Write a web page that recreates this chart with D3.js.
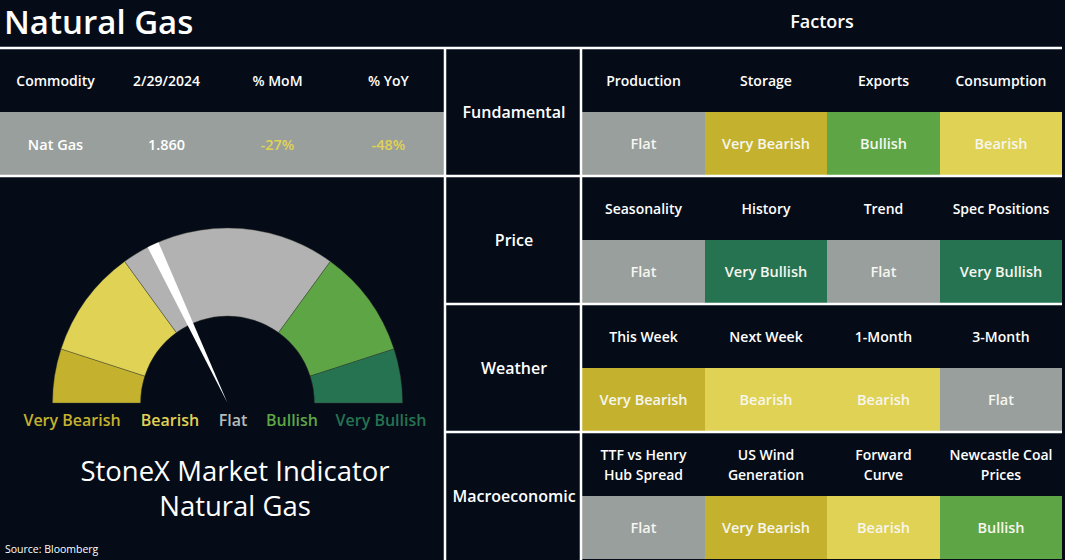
<!DOCTYPE html>
<html>
<head>
<meta charset="utf-8">
<script src="https://cdn.jsdelivr.net/npm/d3@7"></script>
<style>
  body { margin: 0; background: #050c17; }
  svg { display: block; font-family: "Open Sans", "Noto Sans", sans-serif; }
</style>
</head>
<body>
<div id="chart"></div>
<script>
// summary table
var summaryCols = ["Commodity", "2/29/2024", "% MoM", "% YoY"];
var summaryRow = ["Nat Gas", "1.860", "-27%", "-48%"];

// signal levels and how much of the gauge each one takes
var levels = ["Very Bearish", "Bearish", "Flat", "Bullish", "Very Bullish"];
var levelShares = [0.1, 0.2, 0.4, 0.2, 0.1];
var needleScore = -0.28; // -1 very bearish .. 1 very bullish

// factor grid
var groups = ["Fundamental", "Price", "Weather", "Macroeconomic"];
var factors = [
  ["Production", "Storage", "Exports", "Consumption"],
  ["Seasonality", "History", "Trend", "Spec Positions"],
  ["This Week", "Next Week", "1-Month", "3-Month"],
  ["TTF vs Henry|Hub Spread", "US Wind|Generation", "Forward|Curve", "Newcastle Coal|Prices"]
];
var signals = [
  ["Flat", "Very Bearish", "Bullish", "Bearish"],
  ["Flat", "Very Bullish", "Flat", "Very Bullish"],
  ["Very Bearish", "Bearish", "Bearish", "Flat"],
  ["Flat", "Very Bearish", "Bearish", "Bullish"]
];

var W = 1065, H = 560;
var bg = "#050c17";
var cellColor = d3.scaleOrdinal()
  .domain(levels)
  .range(["#c4b22e", "#e0d254", "#999f9d", "#5ea645", "#267352"]);
var arcColor = d3.scaleOrdinal()
  .domain(levels)
  .range(["#c4b22e", "#e0d254", "#b2b2b2", "#5ea645", "#267352"]);
var labelColor = d3.scaleOrdinal()
  .domain(levels)
  .range(["#c4b22e", "#e0d254", "#b8bcbd", "#5ea645", "#267352"]);

var svg = d3.select("#chart").append("svg")
  .attr("width", W).attr("height", H);

svg.append("rect").attr("width", W).attr("height", H).attr("fill", bg);

// titles
svg.append("text").attr("x", 4).attr("y", 34)
  .attr("fill", "#fff").attr("font-size", 33).attr("font-weight", 600)
  .text("Natural Gas");
svg.append("text").attr("x", 822).attr("y", 22).attr("dy", "0.35em")
  .attr("text-anchor", "middle").attr("fill", "#fff")
  .attr("font-size", 18).attr("font-weight", 600)
  .text("Factors");

// ---- left summary table
var sx = d3.scaleBand().domain(summaryCols).range([0, 444]);
svg.append("rect").attr("x", 0).attr("y", 112).attr("width", 444).attr("height", 63)
  .attr("fill", "#999f9d");
svg.selectAll(".shead").data(summaryCols).enter().append("text")
  .attr("class", "shead")
  .attr("x", function(d) { return sx(d) + sx.bandwidth() / 2; })
  .attr("y", 81).attr("dy", "0.35em")
  .attr("text-anchor", "middle").attr("fill", "#fff")
  .attr("font-size", 14).attr("font-weight", 600)
  .text(function(d) { return d; });
svg.selectAll(".sval").data(summaryRow).enter().append("text")
  .attr("class", "sval")
  .attr("x", function(d, i) { return sx(summaryCols[i]) + sx.bandwidth() / 2; })
  .attr("y", 145).attr("dy", "0.35em")
  .attr("text-anchor", "middle")
  .attr("fill", function(d) { return d.charAt(0) == "-" ? "#e0d254" : "#fff"; })
  .attr("font-size", 14.5).attr("font-weight", 600)
  .text(function(d) { return d; });

// ---- gauge
var gx = 227.5, gy = 403;
var gauge = svg.append("g").attr("transform", "translate(" + gx + "," + gy + ")");
var pie = d3.pie().sort(null).startAngle(-Math.PI / 2).endAngle(Math.PI / 2);
var arc = d3.arc().innerRadius(87).outerRadius(175);
gauge.selectAll("path.seg").data(pie(levelShares)).enter().append("path")
  .attr("class", "seg")
  .attr("d", arc)
  .attr("fill", function(d, i) { return arcColor(levels[i]); })
  .attr("stroke", "#3a3f33").attr("stroke-width", 0.4);

var needleAngle = d3.scaleLinear().domain([-1, 1]).range([-Math.PI / 2, Math.PI / 2]);
var a = needleAngle(needleScore), half = 0.034;
var needlePts = [[0, 0],
  [175 * Math.sin(a - half), -175 * Math.cos(a - half)],
  [175 * Math.sin(a + half), -175 * Math.cos(a + half)]];
gauge.append("path")
  .attr("d", d3.line()(needlePts) + "Z")
  .attr("fill", "#fff");

var labelX = [72, 170, 233, 292, 381];
svg.selectAll(".glab").data(levels).enter().append("text")
  .attr("class", "glab")
  .attr("x", function(d, i) { return labelX[i]; })
  .attr("y", 420).attr("dy", "0.35em")
  .attr("text-anchor", "middle")
  .attr("fill", function(d) { return labelColor(d); })
  .attr("font-size", 16).attr("font-weight", 600)
  .text(function(d) { return d; });

svg.append("text").attr("x", 235).attr("y", 471).attr("dy", "0.35em")
  .attr("text-anchor", "middle").attr("fill", "#fff").attr("font-size", 27.5)
  .text("StoneX Market Indicator");
svg.append("text").attr("x", 235).attr("y", 506).attr("dy", "0.35em")
  .attr("text-anchor", "middle").attr("fill", "#fff").attr("font-size", 27.5)
  .text("Natural Gas");
svg.append("text").attr("x", 5).attr("y", 553)
  .attr("fill", "#fff").attr("font-size", 10.5)
  .text("Source: Bloomberg");

// ---- factor grid
var colEdges = [582, 705, 827, 940, 1062];
var blockY = d3.scaleBand().domain(groups).range([49, 49 + 128 * 4]);
var rowH = 63;

groups.forEach(function(g, gi) {
  var top = blockY(g);
  var blk = svg.append("g");
  blk.append("text").attr("x", 514).attr("y", top + rowH).attr("dy", "0.35em")
    .attr("text-anchor", "middle").attr("fill", "#fff")
    .attr("font-size", 16).attr("font-weight", 600)
    .text(g);

  blk.selectAll("rect").data(signals[gi]).enter().append("rect")
    .attr("x", function(d, i) { return colEdges[i]; })
    .attr("y", top + rowH)
    .attr("width", function(d, i) { return colEdges[i + 1] - colEdges[i]; })
    .attr("height", rowH)
    .attr("fill", function(d) { return cellColor(d); });

  blk.selectAll(".val").data(signals[gi]).enter().append("text")
    .attr("class", "val")
    .attr("x", function(d, i) { return (colEdges[i] + colEdges[i + 1]) / 2; })
    .attr("y", top + rowH + 32).attr("dy", "0.35em")
    .attr("text-anchor", "middle").attr("fill", "#f6f6ef")
    .attr("font-size", 14.5).attr("font-weight", 600)
    .text(function(d) { return d; });

  blk.selectAll(".fac").data(factors[gi]).enter().append("text")
    .attr("class", "fac")
    .attr("text-anchor", "middle").attr("fill", "#fff")
    .attr("font-size", 14).attr("font-weight", 600)
    .each(function(d, i) {
      var lines = d.split("|");
      var cx = (colEdges[i] + colEdges[i + 1]) / 2;
      var y0 = top + 32 - (lines.length - 1) * 10;
      d3.select(this).selectAll("tspan").data(lines).enter().append("tspan")
        .attr("x", cx)
        .attr("y", function(l, k) { return y0 + k * 20; })
        .attr("dy", "0.35em")
        .text(function(l) { return l; });
    });
});

// ---- white rules
var rules = svg.append("g").attr("stroke", "#fff").attr("stroke-width", 2.5);
rules.append("line").attr("x1", 0).attr("x2", 1062).attr("y1", 48).attr("y2", 48);
rules.append("line").attr("x1", 0).attr("x2", 444).attr("y1", 176).attr("y2", 176);
groups.slice(1).forEach(function(g) {
  rules.append("line").attr("x1", 444).attr("x2", 1062)
    .attr("y1", blockY(g) - 1).attr("y2", blockY(g) - 1);
});
rules.append("line").attr("x1", 445).attr("x2", 445).attr("y1", 48).attr("y2", H);
rules.append("line").attr("x1", 581).attr("x2", 581).attr("y1", 48).attr("y2", H);
</script>
</body>
</html>
